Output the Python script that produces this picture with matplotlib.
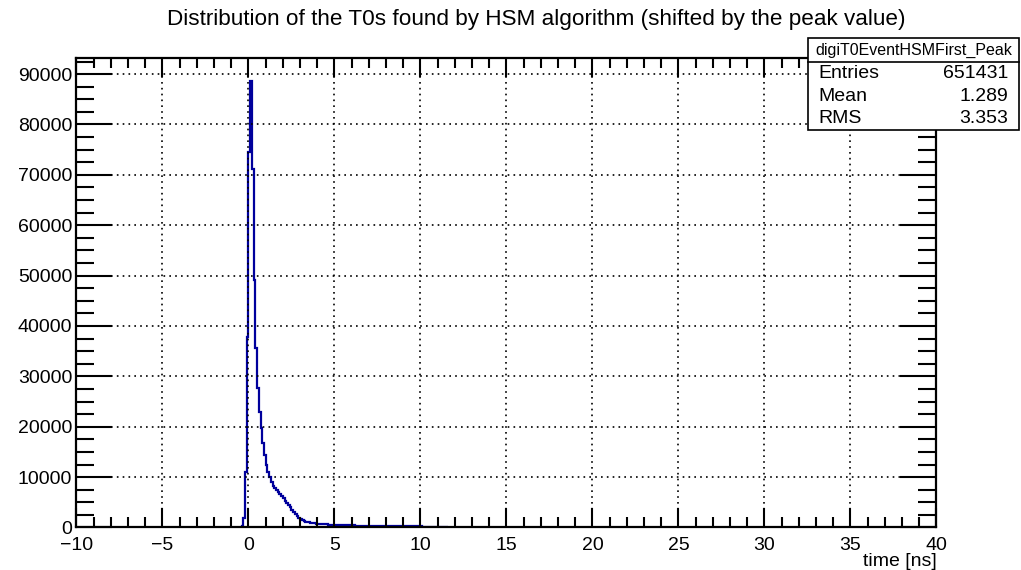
import numpy as np
import matplotlib
matplotlib.use("Agg")
import matplotlib.pyplot as plt
from matplotlib.patches import Rectangle
from matplotlib.lines import Line2D
from matplotlib.ticker import MultipleLocator

plt.rcParams['font.family'] = ['Liberation Sans', 'DejaVu Sans']

# histogram: 0.1 ns bins, first non-empty bin starts at -0.4 ns
bin_width = 0.1
first_edge = -0.4
counts = [
    300, 1800, 11100, 37900, 74600, 88700, 71200, 49100, 35600, 27600,   # -0.4 .. 0.5
    23000, 19700, 16700, 14400, 12400, 11100, 10100, 9100, 8300, 7800,   # 0.6 .. 1.5
    7400, 7000, 6600, 6200, 5800, 5300, 4900, 4500, 4000, 3500,          # 1.6 .. 2.5
    3000, 2600, 2200, 1900, 1650, 1450, 1300, 1180, 1080, 1000,          # 2.6 .. 3.5
    930, 870, 820, 770, 730, 700, 670, 640, 620, 600,                    # 3.6 .. 4.5
    580, 560, 540, 520, 500, 490, 480, 470, 460, 450,                    # 4.6 .. 5.5
    440, 430, 420, 410, 400, 395, 390, 385, 380, 375,                    # 5.6 .. 6.5
    370, 365, 360, 355, 350, 345, 340, 335, 330, 325,                    # 6.6 .. 7.5
    320, 315, 310, 305, 300, 295, 290, 285, 280, 275,                    # 7.6 .. 8.5
    270, 265, 260, 255, 250, 245, 240, 235, 230, 225,                    # 8.6 .. 9.5
    220, 215, 210, 205, 200, 180, 170, 160, 150, 140,                    # 9.6 .. 10.5
    130, 120, 110, 100, 95, 90, 85, 80, 75, 70,                          # 10.6 .. 11.5
]
edges = first_edge + bin_width * np.arange(len(counts) + 1)

title = "Distribution of the T0s found by HSM algorithm (shifted by the peak value)"
stat_name = "digiT0EventHSMFirst_Peak"
stat_rows = [("Entries", "651431"), ("Mean", "1.289"), ("RMS", "3.353")]

fig = plt.figure(figsize=(10.21, 5.70), dpi=100)
ax = fig.add_axes([0.0749, 0.0746, 0.9172 - 0.0749, 0.8977 - 0.0746])

ax.stairs(counts, edges, color='#00009c', lw=1.6)

ax.set_xlim(-10, 40)
ax.set_ylim(0, 1.05 * max(counts))
ax.xaxis.set_major_locator(MultipleLocator(5))
ax.xaxis.set_minor_locator(MultipleLocator(1))
ax.yaxis.set_major_locator(MultipleLocator(10000))
ax.yaxis.set_minor_locator(MultipleLocator(2500))

ax.grid(True, which='major', color='black', linestyle=(0, (1, 2.5)), lw=1.2)
ax.set_axisbelow(False)

ax.tick_params(axis='both', which='both', direction='in', top=True, right=True,
               labelsize=14, width=1.5, color='black')
ax.tick_params(axis='x', which='major', length=14, pad=7)
ax.tick_params(axis='x', which='minor', length=7)
ax.tick_params(axis='y', which='major', length=26, pad=3)
ax.tick_params(axis='y', which='minor', length=13)
for s in ax.spines.values():
    s.set_linewidth(1.6)

ax.set_xlabel("time [ns]", fontsize=14, loc='right', labelpad=-1)

fig.text(536 / 1021, 1 - 20 / 570, title, ha='center', va='center', fontsize=16.2)

# stats box
bx0, bx1 = 808 / 1021, 1019 / 1021
by0, by1 = 1 - 130 / 570, 1 - 38.5 / 570
fig.patches.append(Rectangle((bx0, by0), bx1 - bx0, by1 - by0, transform=fig.transFigure,
                             facecolor='white', edgecolor='black', lw=1.2, zorder=5))
sep_y = 1 - 62 / 570
fig.lines.append(Line2D([bx0, bx1], [sep_y, sep_y], transform=fig.transFigure,
                        color='black', lw=1.2, zorder=6))
fig.text((bx0 + bx1) / 2, 1 - 50 / 570, stat_name, ha='center', va='center',
         fontsize=11.5, zorder=7)
row_y = [73.5, 96.5, 118.5]
for (lab, val), yy in zip(stat_rows, row_y):
    fig.text(818 / 1021, 1 - yy / 570, lab, ha='left', va='center', fontsize=14, zorder=7)
    fig.text(1008 / 1021, 1 - yy / 570, val, ha='right', va='center', fontsize=14, zorder=7)

fig.savefig("out.png", dpi=100)
